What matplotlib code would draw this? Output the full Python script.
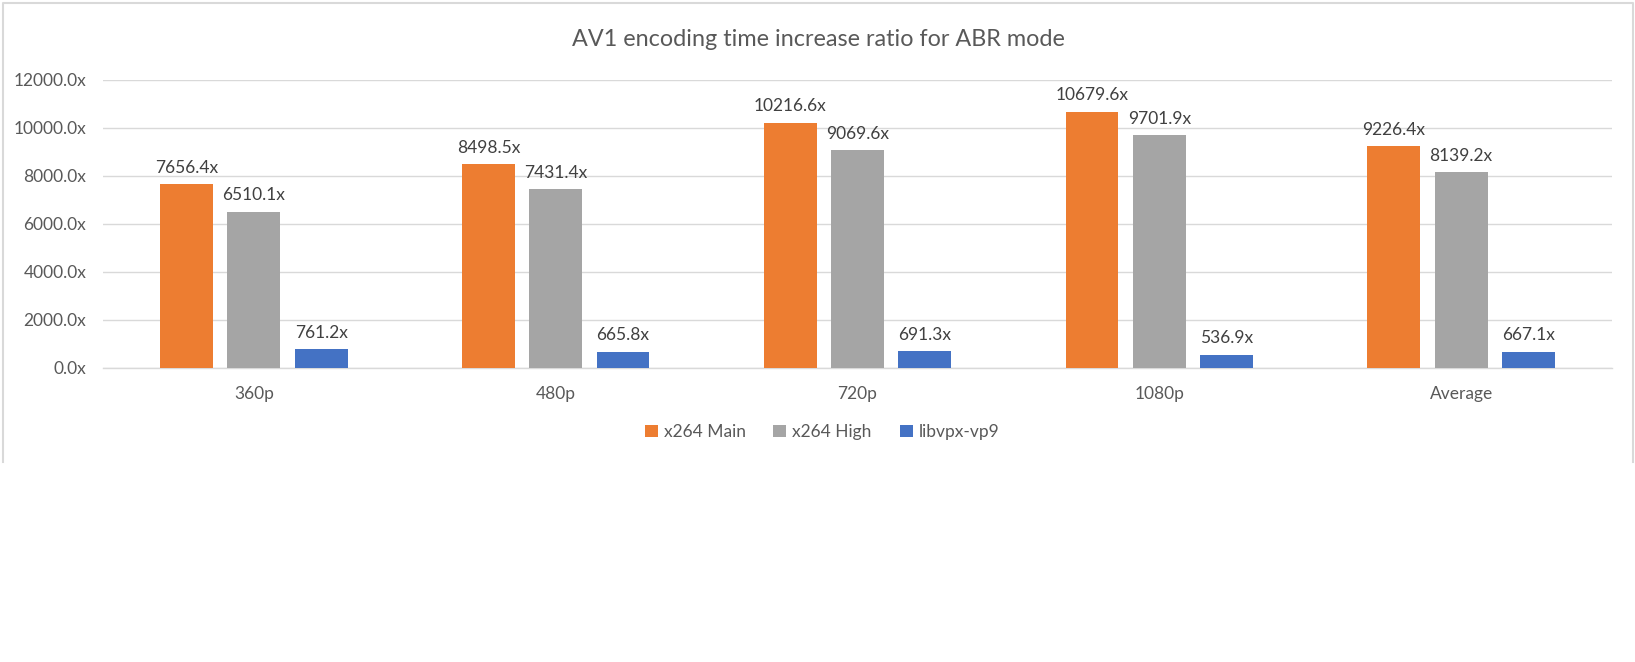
import numpy as np
import matplotlib
matplotlib.use('Agg')
import matplotlib.pyplot as plt
from matplotlib.lines import Line2D

# data
categories = ['360p', '480p', '720p', '1080p', 'Average']
series_names = ['x264 Main', 'x264 High', 'libvpx-vp9']
x264_main = [7656.4, 8498.5, 10216.6, 10679.6, 9226.4]
x264_high = [6510.1, 7431.4, 9069.6, 9701.9, 8139.2]
libvpx_vp9 = [761.2, 665.8, 691.3, 536.9, 667.1]
y_ticks = [0, 2000, 4000, 6000, 8000, 10000, 12000]

colors = ['#ED7D31', '#A5A5A5', '#4472C4']
plt.rcParams['font.family'] = ['Lato', 'DejaVu Sans']

W, H = 1635, 662
fig = plt.figure(figsize=(W / 100, H / 100), dpi=100)

# plot area (pixel positions)
ax = fig.add_axes([103 / W, 1 - 367.5 / H, 1509 / W, 287.5 / H])

x = np.arange(len(categories))
bar_w = 0.175
step = 0.223
all_series = [x264_main, x264_high, libvpx_vp9]
for i, vals in enumerate(all_series):
    pos = x + (i - 1) * step
    bars = ax.bar(pos, vals, width=bar_w, color=colors[i], label=series_names[i], zorder=3)
    for b, v in zip(bars, vals):
        ax.annotate(f'{v:.1f}x', (b.get_x() + b.get_width() / 2, v),
                    xytext=(0, 6), textcoords='offset points',
                    ha='center', va='bottom', fontsize=12.5, color='#404040', zorder=4)

ax.set_xlim(-0.5, len(categories) - 0.5)
ax.set_ylim(0, 12000)
ax.set_yticks(y_ticks)
ax.set_yticklabels([f'{t:.1f}x' for t in y_ticks], fontsize=12.5, color='#595959')
ax.set_xticks(x)
ax.set_xticklabels(categories, fontsize=12.5, color='#595959')
ax.tick_params(length=0)
ax.tick_params(axis='y', pad=12)
ax.tick_params(axis='x', pad=13)
ax.grid(axis='y', color='#D9D9D9', linewidth=1.0, zorder=0)
ax.set_axisbelow(True)
for s in ['top', 'right', 'left']:
    ax.spines[s].set_visible(False)
ax.spines['bottom'].set_color('#D9D9D9')
ax.spines['bottom'].set_linewidth(1.0)

fig.text(818 / W, 1 - 40 / H, 'AV1 encoding time increase ratio for ABR mode',
         ha='center', va='center', fontsize=16.8, color='#595959')

handles, labels = ax.get_legend_handles_labels()
fig.legend(handles, labels, loc='center', bbox_to_anchor=(822 / W, 1 - 432 / H),
           ncol=3, frameon=False, fontsize=12.5, labelcolor='#595959',
           handlelength=0.75, handleheight=0.75, handletextpad=0.35, columnspacing=1.6)

# chart border (left, top, right)
bx0, bx1, by0, by1 = 3 / W, 1633 / W, 1 - 462 / H, 1 - 3 / H
fig.add_artist(Line2D([bx0, bx0, bx1, bx1], [by0, by1, by1, by0],
                      transform=fig.transFigure, color='#D9D9D9', linewidth=1.5))

fig.savefig('out.png', dpi=100, facecolor='white')
